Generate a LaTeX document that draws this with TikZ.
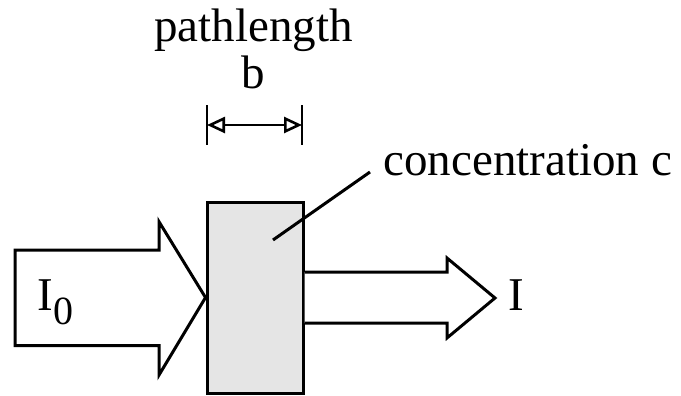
\documentclass[tikz,border=0pt]{standalone}
\usepackage{fontspec}
\setmainfont{Liberation Serif}
\usepackage{tikz}
\usetikzlibrary{positioning}
\usetikzlibrary{arrows.meta}
\definecolor{cellgray}{HTML}{E5E5E5}
\newcommand{\lbl}{\fontsize{23.5pt}{28pt}\selectfont}

\begin{document}
\begin{tikzpicture}[x=0.5pt,y=-0.5pt,line width=1.5pt,line join=miter,
    beam/.style={draw=black,fill=white},
    dimline/.style={line width=1.3pt,{Triangle[open,length=9pt,width=8pt]}-{Triangle[open,length=9pt,width=8pt]}},
    txt/.style={inner sep=0pt,font=\lbl}]
  \useasboundingbox (0,0) rectangle (681,396);
  % sample cell
  \node[draw,fill=cellgray,minimum width=48pt,minimum height=95.5pt,inner sep=0pt] (cell) at (255,297.5) {};
  % incident beam
  \draw[beam] (15,250) -- (159,250) -- (159,221.7) -- (cell.west) -- (159,375) -- (159,345.7) -- (15,345.7) -- cycle;
  \node[txt,anchor=base west] (Izero) at (36,310) {I\raisebox{-7pt}{\fontsize{20pt}{20pt}\selectfont 0}};
  % transmitted beam
  \draw[beam] (cell.east |- 0,272) -- (447,272) -- (447,258) -- (495,298) -- (447,338) -- (447,323) -- (cell.east |- 0,323);
  \node[txt,anchor=base west] (Iout) at (507,310) {I};
  % path length
  \coordinate (bL) at (207,125);
  \coordinate (bR) at (302,125);
  \draw[line width=1.3pt] ([yshift=10pt]bL) -- ([yshift=-10pt]bL);
  \draw[line width=1.3pt] ([yshift=10pt]bR) -- ([yshift=-10pt]bR);
  \draw[dimline] (bL) -- (bR);
  \node[txt,anchor=base] (plen) at (253.5,41) {pathlength};
  \node[txt,anchor=base] (bsym) at (253,88) {b};
  % concentration
  \node[txt,anchor=base west] (conc) at (382,175) {concentration c};
  \coordinate (inside) at (273,240);
  \draw (inside) -- ([xshift=-6pt,yshift=1.5pt]conc.base west);
\end{tikzpicture}
\end{document}
